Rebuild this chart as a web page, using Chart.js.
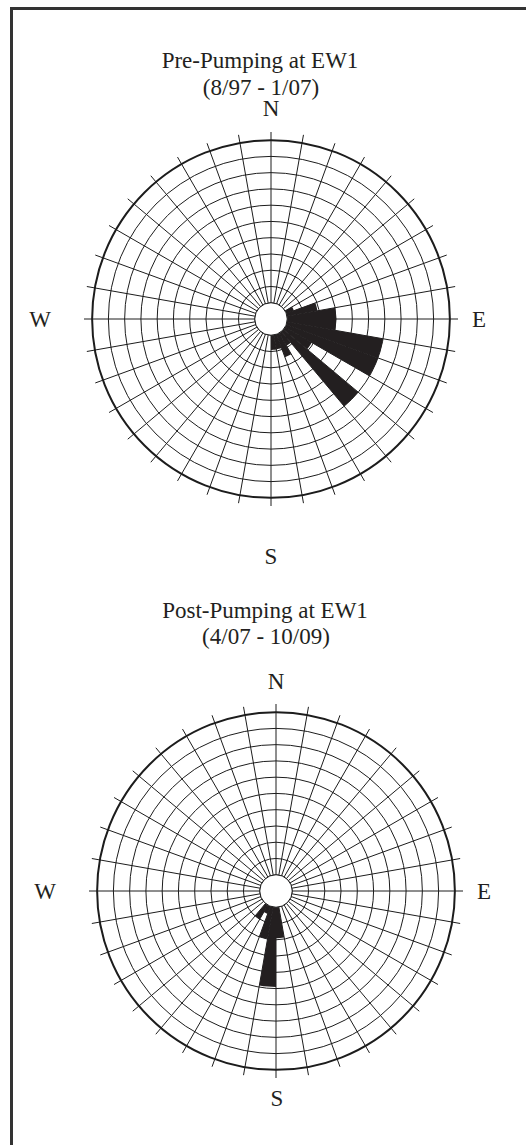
<!DOCTYPE html>
<html>
<head>
<meta charset="utf-8">
<title>Rose diagrams EW1</title>
<script src="https://cdn.jsdelivr.net/npm/chart.js@4.4.0/dist/chart.umd.min.js"></script>
<style>
  body { margin: 0; background: #fff; width: 526px; height: 1145px; overflow: hidden; position: relative;
         font-family: "Liberation Serif", "Times New Roman", serif; color: #231f20; }
  .frame { position: absolute; left: 10px; top: 7px; width: 600px; height: 1200px;
           border-left: 3px solid #333; border-top: 3px solid #333; }
  .txt { position: absolute; font-size: 23px; line-height: 23px; white-space: nowrap; transform: translate(-50%, -50%); }
  .box { position: absolute; width: 374px; height: 374px; }
</style>
</head>
<body>
<div class="frame"></div>

<div class="txt" style="left:260px; top:60px;">Pre-Pumping at EW1</div>
<div class="txt" style="left:261px; top:87px;">(8/97 - 1/07)</div>
<div class="txt" style="left:271px; top:108px;">N</div>
<div class="txt" style="left:40px; top:319px;">W</div>
<div class="txt" style="left:479px; top:319px;">E</div>
<div class="txt" style="left:271px; top:556px;">S</div>

<div class="txt" style="left:265px; top:610px;">Post-Pumping at EW1</div>
<div class="txt" style="left:266px; top:636px;">(4/07 - 10/09)</div>
<div class="txt" style="left:276px; top:681px;">N</div>
<div class="txt" style="left:45px; top:891px;">W</div>
<div class="txt" style="left:484px; top:891px;">E</div>
<div class="txt" style="left:277px; top:1098px;">S</div>

<div class="box" style="left:84px; top:132px;"><canvas id="preChart" width="374" height="374"></canvas></div>
<div class="box" style="left:89px; top:704px;"><canvas id="postChart" width="374" height="374"></canvas></div>

<script>
// 10-degree direction bins, clockwise from north
const bins = ['0-10', '10-20', '20-30', '30-40', '40-50', '50-60', '60-70', '70-80', '80-90',
  '90-100', '100-110', '110-120', '120-130', '130-140', '140-150', '150-160', '160-170', '170-180',
  '180-190', '190-200', '200-210', '210-220', '220-230', '230-240', '240-250', '250-260', '260-270',
  '270-280', '280-290', '290-300', '300-310', '310-320', '320-330', '330-340', '340-350', '350-360'];

// bin counts (one ring = one unit)
const preValues = [0, 0, 0, 0, 0, 0, 0.5, 1.9, 3.0, 3.0, 6.0, 6.0, 1.9, 6.0, 0.9, 1.5, 0.9, 0.9,
  0, 0, 0, 0, 0, 0, 0, 0, 0, 0, 0, 0, 0, 0, 0, 0, 0, 0];
const postValues = [0, 0, 0, 0, 0, 0, 0, 0, 0, 0, 0, 0, 0, 0, 0, 0, 0, 1.9,
  4.9, 2.0, 0.5, 1.0, 0, 0, 0, 0, 0, 0, 0, 0, 0, 0, 0, 0, 0, 0];

const ringMin = -1;   // inner hole is one ring wide
const ringMax = 10;   // outer circle
const scaleMax = 10.5; // spokes run a bit past the outer circle

const lineColor = '#1c1c1c';
const barColor = '#231f20';

// white hole in the middle, drawn on top of the wedges
const holePlugin = {
  id: 'hole',
  afterDatasetsDraw(chart) {
    const r = chart.scales.r;
    const rad = r.getDistanceFromCenterForValue(0);
    const ctx = chart.ctx;
    ctx.save();
    ctx.beginPath();
    ctx.arc(r.xCenter, r.yCenter, rad, 0, Math.PI * 2);
    ctx.fillStyle = '#fff';
    ctx.fill();
    ctx.lineWidth = 1;
    ctx.strokeStyle = lineColor;
    ctx.stroke();
    ctx.restore();
  }
};

function makeRose(id, values) {
  const ctx = document.getElementById(id).getContext('2d');
  return new Chart(ctx, {
    type: 'polarArea',
    data: {
      labels: bins,
      datasets: [{
        data: values,
        backgroundColor: barColor,
        borderWidth: 0
      }]
    },
    options: {
      responsive: false,
      animation: false,
      layout: { padding: 0 },
      plugins: { legend: { display: false }, tooltip: { enabled: false } },
      scales: {
        r: {
          min: ringMin,
          max: scaleMax,
          startAngle: 0,
          ticks: { display: false, stepSize: 1 },
          pointLabels: { display: false },
          angleLines: { display: true, color: lineColor, lineWidth: 1 },
          grid: {
            circular: true,
            color: c => (c.tick && c.tick.value > ringMax) ? 'rgba(0,0,0,0)' : lineColor,
            lineWidth: c => (c.tick && c.tick.value === ringMax) ? 2 : 1
          }
        }
      }
    },
    plugins: [holePlugin]
  });
}

makeRose('preChart', preValues);
makeRose('postChart', postValues);
</script>
</body>
</html>
